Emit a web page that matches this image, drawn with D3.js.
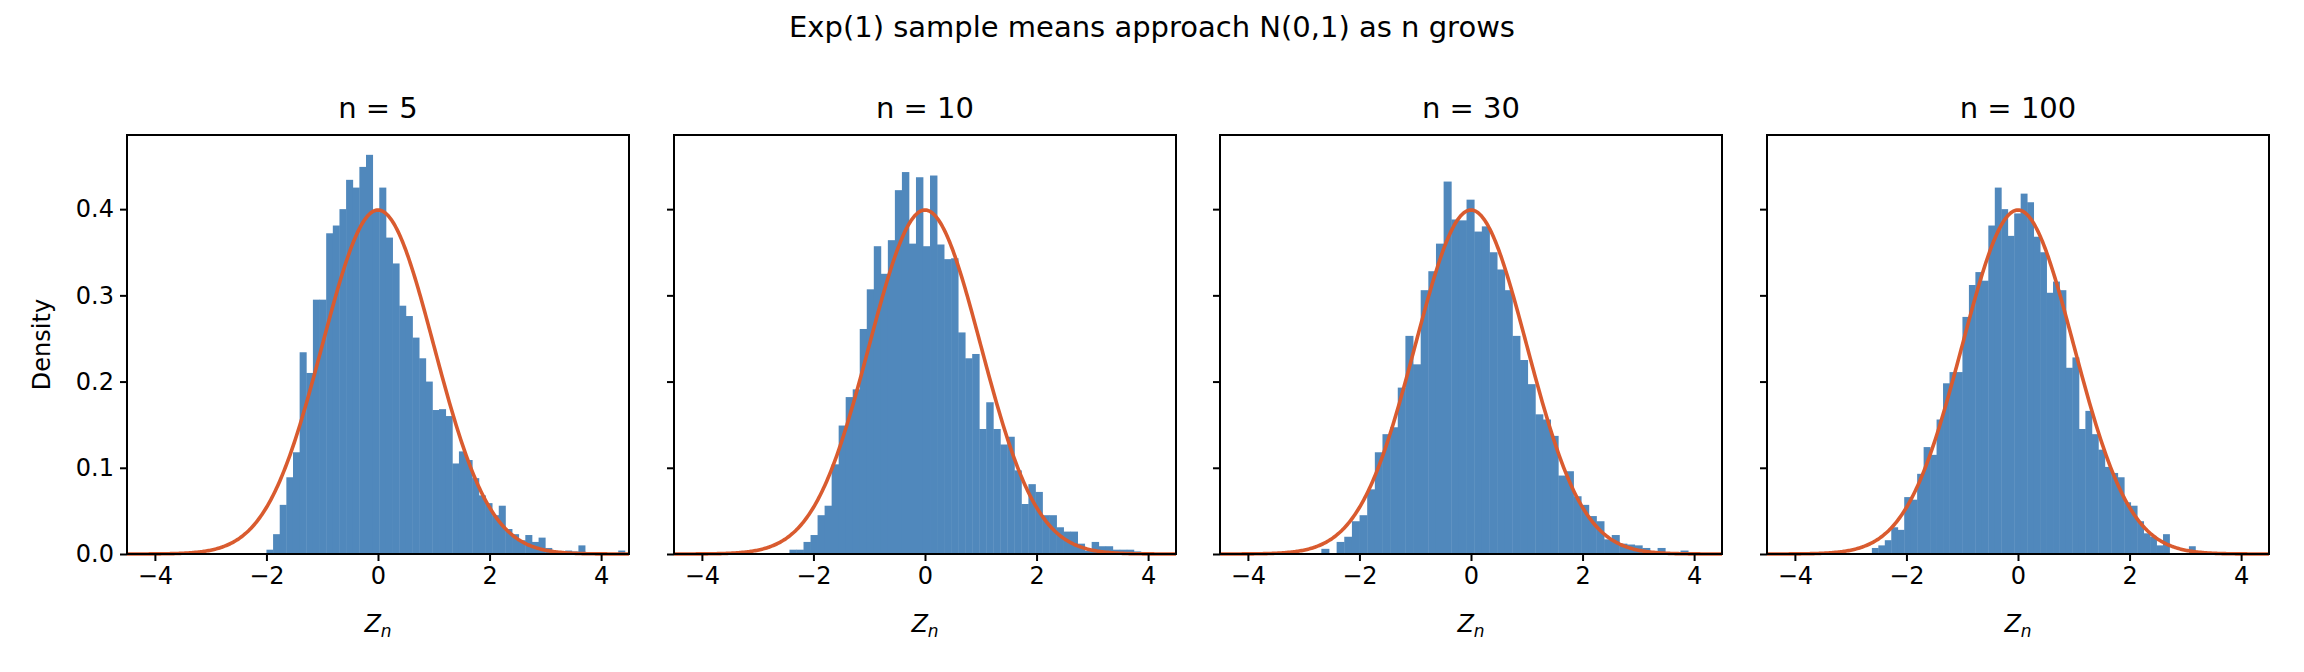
<!DOCTYPE html>
<html>
<head>
<meta charset="utf-8">
<script src="https://cdn.jsdelivr.net/npm/d3@7"></script>
<style>
  body { margin: 0; background: #fff; }
  text { font-family: "DejaVu Sans", sans-serif; fill: #000; }
</style>
</head>
<body>
<svg id="chart" width="2304" height="672"></svg>
<script>
// sample sizes shown in each panel
const sampleSizes = [5, 10, 30, 100];

// histogram bins: left edge of first bin, bin width, then densities
const binStarts = [-2.0, -2.43, -2.82, -2.62];
const binWidths = [0.119, 0.126, 0.137, 0.116];

const densN5 = [0.005, 0.023, 0.057, 0.089, 0.118, 0.234, 0.210, 0.295, 0.295, 0.372,
  0.381, 0.400, 0.434, 0.425, 0.449, 0.463, 0.398, 0.425, 0.367, 0.337,
  0.288, 0.276, 0.251, 0.227, 0.200, 0.167, 0.168, 0.160, 0.105, 0.119,
  0.109, 0.088, 0.068, 0.059, 0.045, 0.056, 0.029, 0.023, 0.016, 0.022,
  0.014, 0.019, 0.007, 0.002, 0.002, 0.004, 0.003, 0.010, 0, 0,
  0, 0, 0, 0.004];
const densN10 = [0.005, 0.005, 0.014, 0.022, 0.045, 0.056, 0.104, 0.149, 0.182, 0.191,
  0.261, 0.307, 0.357, 0.325, 0.364, 0.422, 0.443, 0.360, 0.437, 0.357,
  0.439, 0.359, 0.342, 0.343, 0.257, 0.227, 0.232, 0.145, 0.176, 0.145,
  0.127, 0.136, 0.097, 0.058, 0.081, 0.072, 0.045, 0.045, 0.031, 0.026,
  0.026, 0.012, 0.004, 0.014, 0.009, 0.009, 0.005, 0.005, 0.005, 0.003];
const densN30 = [0.001, 0.006, 0, 0.014, 0.020, 0.038, 0.045, 0.075, 0.118, 0.139,
  0.147, 0.193, 0.253, 0.220, 0.306, 0.328, 0.360, 0.432, 0.388, 0.387,
  0.411, 0.374, 0.380, 0.350, 0.330, 0.306, 0.253, 0.225, 0.197, 0.162,
  0.156, 0.137, 0.091, 0.096, 0.067, 0.057, 0.044, 0.038, 0.017, 0.022,
  0.012, 0.011, 0.010, 0.007, 0.002, 0.007, 0.001, 0.001, 0.004];
const densN100 = [0.007, 0.010, 0.016, 0.031, 0.028, 0.066, 0.063, 0.093, 0.124, 0.115,
  0.156, 0.198, 0.211, 0.211, 0.275, 0.312, 0.327, 0.317, 0.381, 0.425,
  0.400, 0.369, 0.395, 0.418, 0.408, 0.368, 0.350, 0.303, 0.316, 0.306,
  0.216, 0.228, 0.145, 0.166, 0.139, 0.121, 0.101, 0.094, 0.089, 0.060,
  0.056, 0.038, 0.024, 0.020, 0.010, 0.023, 0.001, 0, 0, 0.009];
const densities = [densN5, densN10, densN30, densN100];

const xTicks = [-4, -2, 0, 2, 4];
const yTicks = [0.0, 0.1, 0.2, 0.3, 0.4];

const svg = d3.select("#chart");
const panelLefts = [127, 674, 1220, 1767];
const panelW = 502, plotTop = 135, plotBottom = 554;

svg.append("text")
  .attr("x", 1152).attr("y", 37)
  .attr("text-anchor", "middle")
  .style("font-size", "29px")
  .text("Exp(1) sample means approach N(0,1) as n grows");

const y = d3.scaleLinear().domain([0, 0.486]).range([plotBottom, plotTop]);
const pdf = z => Math.exp(-z * z / 2) / Math.sqrt(2 * Math.PI);
const curveX = d3.range(-4.5, 4.5001, 0.02);

sampleSizes.forEach((n, i) => {
  const left = panelLefts[i];
  const x = d3.scaleLinear().domain([-4.5, 4.5]).range([left, left + panelW]);
  const g = svg.append("g");

  const bins = densities[i].map((d, k) => ({
    x0: binStarts[i] + k * binWidths[i],
    x1: binStarts[i] + (k + 1) * binWidths[i],
    d: d
  }));

  g.selectAll("rect.bar")
    .data(bins.filter(b => b.d > 0))
    .join("rect")
    .attr("x", b => x(b.x0))
    .attr("width", b => x(b.x1) - x(b.x0) + 0.4)
    .attr("y", b => y(b.d))
    .attr("height", b => y(0) - y(b.d))
    .attr("fill", "#5088bc");

  g.append("path")
    .datum(curveX)
    .attr("d", d3.line().x(z => x(z)).y(z => y(pdf(z))))
    .attr("fill", "none")
    .attr("stroke", "#d95b2f")
    .attr("stroke-width", 3.6);

  const xAxis = g.append("g")
    .attr("transform", `translate(0,${plotBottom})`)
    .call(d3.axisBottom(x).tickValues(xTicks).tickSize(7).tickPadding(6)
      .tickFormat(d => d < 0 ? "\u2212" + Math.abs(d) : d));
  const yAxis = g.append("g")
    .attr("transform", `translate(${left},0)`)
    .call(d3.axisLeft(y).tickValues(yTicks).tickSize(7).tickPadding(6)
      .tickFormat(i === 0 ? d3.format(".1f") : () => ""));
  [xAxis, yAxis].forEach(a => {
    a.select(".domain").remove();
    a.selectAll("line").attr("stroke", "#000").attr("stroke-width", 2);
    a.selectAll("text").style("font-size", "24px").style("font-family", "DejaVu Sans");
  });

  g.append("rect")
    .attr("x", left).attr("y", plotTop)
    .attr("width", panelW).attr("height", plotBottom - plotTop)
    .attr("fill", "none").attr("stroke", "#000").attr("stroke-width", 2);

  g.append("text")
    .attr("x", left + panelW / 2).attr("y", 118)
    .attr("text-anchor", "middle")
    .style("font-size", "29px")
    .text(`n = ${n}`);

  const lbl = g.append("text")
    .attr("x", left + panelW / 2).attr("y", 632)
    .attr("text-anchor", "middle")
    .style("font-size", "24px")
    .style("font-style", "italic");
  lbl.append("tspan").text("Z");
  lbl.append("tspan").attr("dy", 5).style("font-size", "17px").text("n");
});

svg.append("text")
  .attr("transform", `translate(50,${(plotTop + plotBottom) / 2}) rotate(-90)`)
  .attr("text-anchor", "middle")
  .style("font-size", "24px")
  .text("Density");
</script>
</body>
</html>
